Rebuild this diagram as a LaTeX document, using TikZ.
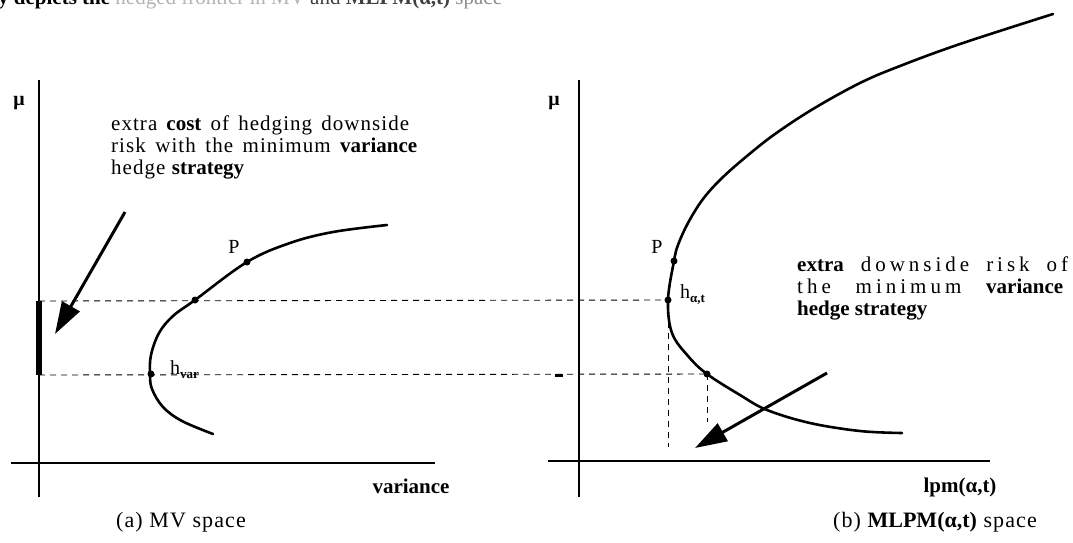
\documentclass[tikz,border=0pt]{standalone}
\usepackage{fontspec}
\setmainfont{Liberation Serif}
\newfontfamily\spcL[LetterSpace=5]{Liberation Serif}
\newfontfamily\spcR[LetterSpace=19]{Liberation Serif}
\newcommand\bw[1]{{\rmfamily\bfseries #1}}
\usetikzlibrary{arrows.meta}
\begin{document}
\begin{tikzpicture}[x=1pt,y=-1pt,
  axis/.style={line width=2.6pt},
  curve/.style={line width=2.6pt, line cap=round},
  guide/.style={line width=0.9pt, dash pattern=on 6pt off 5pt},
  dot/.style={circle, fill=black, inner sep=0pt, minimum size=7pt},
  bigarrow/.style={line width=3pt, -{Triangle[length=32pt,width=20pt]}},
  lab/.style={inner sep=0pt, font=\fontsize{20}{24}\selectfont},
  annL/.style={anchor=base west, inner sep=0pt, font=\spcL\fontsize{21}{25}\selectfont},
  annR/.style={anchor=base west, inner sep=0pt, font=\spcR\fontsize{21}{25}\selectfont},
  capt/.style={inner sep=0pt, font=\spcL\fontsize{22}{26}\selectfont},
]
\useasboundingbox (0,0) rectangle (1073,542);

% cropped line of text at top
\begin{scope}
\clip (0,0) rectangle (1073,14);
\node[anchor=base west, inner sep=0pt, font=\fontsize{21}{25}\selectfont] (top) at (-2,4.5)
  {\textbf{y depicts the} {\color{black!30}hedged frontier in MV} {\color{black!75}and \textbf{MLPM(α,t)}} {\color{black!45}space}};
\end{scope}

% ---------- left panel (MV space) ----------
\coordinate (ly0) at (39,80);
\coordinate (ly1) at (39,497);
\coordinate (lx0) at (11,463);
\coordinate (lx1) at (435,463);
\draw[axis] (ly0) -- (ly1);
\draw[axis] (lx0) -- (lx1);
\coordinate (ma) at (39,301);
\coordinate (mb) at (39,375);
\draw[line width=5.5pt] (ma) -- (mb);

\draw[curve] plot[smooth, tension=0.6] coordinates {
  (213,434) (182,421) (163,407) (152,389) (150,374) (151,355) (159,333)
  (173,316) (195,300) (247,262) (290,243) (333,232) (387,225)};

\node[dot] (P1) at (247,262) {};
\node[dot] (A1) at (195,300) {};
\node[dot] (H1) at (151,374) {};

\node[lab] (pl1) at (234,247) {P};
\node[lab, anchor=base west] (hv) at (170,374) {h\raisebox{-4pt}{\fontsize{13}{13}\selectfont\bfseries var}};
\node[lab, font=\fontsize{20}{24}\selectfont\bfseries] (mu1) at (19,103) {μ};

\node[annL] (t1) at (111,130) {\makebox[298pt][s]{extra \bw{cost} of hedging downside}};
\node[annL] (t2) at (111,152) {\makebox[306pt][s]{risk with the minimum \bw{variance}}};
\node[annL] (t3) at (111,174) {hedge \bw{strategy}};

\coordinate (a1s) at (125,212);
\coordinate (a1e) at (55,334);
\draw[bigarrow] (a1s) -- (a1e);

\node[lab, font=\fontsize{21}{24}\selectfont] (xl1) at (411,486) {\bw{variance}};
\node[capt] (cap1) at (181,522) {(a) MV space};

% ---------- right panel (MLPM space) ----------
\coordinate (ry0) at (579,80);
\coordinate (ry1) at (579,497);
\coordinate (rx0) at (548,461);
\coordinate (rx1) at (990,461);
\draw[axis] (ry0) -- (ry1);
\draw[axis] (rx0) -- (rx1);
\coordinate (tk0) at (555,375);
\coordinate (tk1) at (563,375);
\draw[line width=3pt] (tk0) -- (tk1);

\draw[curve] plot[smooth, tension=0.6] coordinates {
  (1053,14) (960,44) (900,66) (860,83) (813,109) (775,134) (747,156)
  (722,178) (703,199) (688,223) (678,245) (674,261) (668,300) (672,333)
  (688,356) (707,374) (740,395) (767,410) (810,423) (860,431) (902,433)};

\node[dot] (P2) at (674,261) {};
\node[dot] (H2) at (668,300) {};
\node[dot] (B2) at (707,374) {};

\node[lab] (pl2) at (657,247) {P};
\node[lab, anchor=base west] (ha) at (680,298) {h\raisebox{-4pt}{\fontsize{13}{13}\selectfont\bfseries α,t}};
\node[lab, font=\fontsize{20}{24}\selectfont\bfseries] (mu2) at (554,103) {μ};

\node[annR] (r1) at (797,271) {\makebox[271pt][s]{\bw{extra} downside risk of}};
\node[annR] (r2) at (797,293) {\makebox[266pt][s]{the minimum \bw{variance}}};
\node[anchor=base west, inner sep=0pt, font=\fontsize{21}{25}\selectfont] (r3) at (797,315) {\bw{hedge strategy}};

\coordinate (a2s) at (827,373);
\coordinate (a2e) at (695,448);
\draw[bigarrow] (a2s) -- (a2e);

\node[lab, font=\fontsize{21}{24}\selectfont] (xl2) at (960,487) {\bw{lpm(α,t)}};
\node[capt] (cap2) at (935,522) {(b) \bw{MLPM(α,t)} space};

% ---------- dashed guides ----------
\draw[guide] (ma) -- (H2.center);
\draw[guide] (mb) -- (B2.center);
\coordinate (v1) at (668,447);
\coordinate (v2) at (707,422);
\draw[guide] (H2.center) -- (v1);
\draw[guide] (B2.center) -- (v2);
\end{tikzpicture}
\end{document}
